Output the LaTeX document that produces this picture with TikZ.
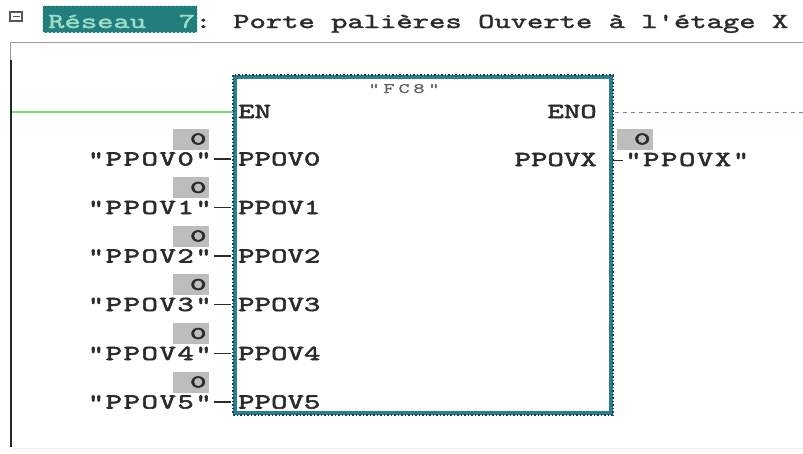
\documentclass[tikz,border=0pt]{standalone}
\usepackage{fontspec}
\newfontfamily\titlefont[FakeStretch=1.46,FakeBold=1.8]{lmmono10-regular.otf}
\newfontfamily\labfont[FakeStretch=1.47,FakeBold=2.5]{lmmono10-regular.otf}
\newfontfamily\outlabfont[FakeStretch=1.47,FakeBold=2.5,LetterSpace=7]{lmmono10-regular.otf}
\newfontfamily\fcfont[FakeStretch=1.47,FakeBold=1.2,LetterSpace=26]{lmmono10-regular.otf}
\newfontfamily\zerofont[FakeStretch=1.8,FakeBold=3]{lmmono10-regular.otf}
\definecolor{txt}{HTML}{2B2B2B}
\definecolor{boxgrey}{HTML}{BDBDBD}
\definecolor{fcteal}{HTML}{2A7F8A}
\definecolor{fcdark}{HTML}{173E66}
\definecolor{engreen}{HTML}{70DC70}
\definecolor{enoblue}{HTML}{6A86D2}
\definecolor{netfill}{HTML}{227D7D}
\definecolor{nettext}{HTML}{9BDCC6}
\definecolor{frame}{HTML}{9A9A9A}
\tikzset{
  inlab/.style={inner sep=0pt, font=\labfont\fontsize{21.3}{21.3}\selectfont, text=txt},
  outlab/.style={inner sep=0pt, font=\outlabfont\fontsize{21.3}{21.3}\selectfont, text=txt},
  zerobox/.style={fill=boxgrey, minimum width=36pt, minimum height=21pt, text width=31pt, align=right, inner sep=2pt, font=\zerofont\fontsize{17.5}{17.5}\selectfont, text=txt},
  fcbox/.style={draw=fcteal, line width=3.5pt, minimum width=376pt, minimum height=336pt, inner sep=0pt},
  fcdots/.style={draw=fcdark, line width=2pt, dash pattern=on 1.5pt off 2pt},
  pinline/.style={draw=txt, line width=1.5pt},
  enline/.style={draw=engreen, line width=2pt},
  enoline/.style={draw=enoblue, line width=1pt, dash pattern=on 4pt off 4pt},
}
\begin{document}
\begin{tikzpicture}[x=1pt, y=-1pt]
\useasboundingbox (0,0) rectangle (803,453);
% header
\draw[draw=txt!80, line width=1.2pt] (10,12) rectangle (22,21);
\draw[draw=txt!80, line width=1.2pt] (12.5,16.5) -- (19.5,16.5);
\node[fill=netfill, minimum width=154pt, minimum height=27pt, inner sep=0pt] (netbox) at (120,19) {};
\draw[draw=nettext!60!white, line width=1pt, dash pattern=on 2pt off 2pt] (netbox.north west) rectangle (netbox.south east);
\node[anchor=base west, inner sep=0pt, font=\titlefont\fontsize{21.3}{21.3}\selectfont] (title) at (48,28)
  {\textcolor{nettext}{R\'eseau\ \ 7}\textcolor{txt}{: Porte pali\`eres Ouverte \`a l'\'etage X}};
% frame
\draw[draw=frame, line width=1pt] (10,60) -- (10,42) -- (803,42);
\draw[draw=black!85, line width=2.5pt] (11,60) -- (11,447);
\draw[draw=black!8, line width=1pt] (12,448) -- (803,448);
% block
\node[fcbox] (fc) at (423,245) {};
\draw[fcdots] (fc.north west) rectangle (fc.south east);
\node[anchor=base, inner sep=0pt, font=\fcfont\fontsize{14.5}{14.5}\selectfont, text=txt!75] (fcname) at (404,93) {"FC8"};
\node[inlab, anchor=base west] (en) at (238,118) {EN};
\node[inlab, anchor=base east] (eno) at (597,118) {ENO};
\node[inlab, anchor=base east] (ppovx) at (597,166) {PPOVX};
% EN / ENO lines
\coordinate (railEN) at (12,112);
\draw[enline] (railEN) -- (railEN -| fc.west);
\coordinate (enoEnd) at (803,112);
\draw[enoline] ([xshift=2pt]fc.east |- enoEnd) -- (enoEnd);
% inputs
\foreach \i/\b in {0/165.5,1/214,2/262.5,3/311,4/360,5/408.5}{
  \node[outlab, anchor=base east] (o\i) at (212,\b) {"PPOV\i"};
  \node[inlab, anchor=base west] (p\i) at (238,\b) {PPOV\i};
  \node[zerobox] (z\i) at (191,\b-26.5) {0};
  \coordinate (d\i) at (214,\b-6.5);
  \coordinate (e\i) at (231,\b-6.5);
  \draw[pinline] (d\i) -- (e\i);
}
% output
\node[zerobox] (zx) at (635,139) {0};
\coordinate (dx) at (613,160.5);
\coordinate (ex) at (623,160.5);
\draw[pinline] (dx) -- (ex);
\node[outlab, anchor=base west] (ox) at (625,166) {"PPOVX"};
\end{tikzpicture}
\end{document}
